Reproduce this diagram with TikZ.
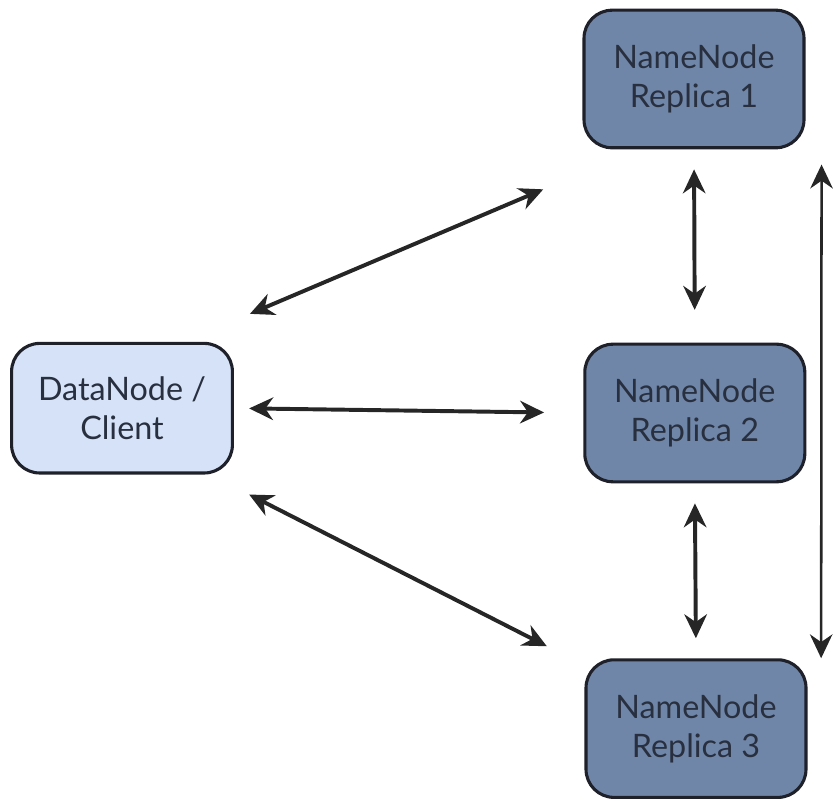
\documentclass[tikz,border=0pt]{standalone}
\usepackage{fontspec}
\setmainfont{Lato}
\usepackage{xcolor}
\definecolor{nnslate}{RGB}{112,134,168}
\definecolor{dnpale}{RGB}{214,226,247}
\definecolor{nnedge}{RGB}{30,32,42}
\definecolor{nntext}{RGB}{40,48,64}
\usetikzlibrary{arrows.meta,positioning,calc}
\tikzset{
  nnode/.style={draw=nnedge, line width=1.1pt, rounded corners=10pt, fill=#1,
                font=\fontsize{11.5}{14}\selectfont, text=nntext, align=center,
                minimum width=2.75cm, minimum height=1.72cm},
  link/.style={{Stealth[length=8.5pt,width=8pt]}-{Stealth[length=8.5pt,width=8pt]},
               line width=1.4pt, black!85},
  thinlink/.style={link, line width=0.9pt},
}

\begin{document}
\begin{tikzpicture}

\useasboundingbox (0,0) rectangle (10.45,10.0125);

% NameNode replicas
\node[nnode=nnslate] (r1) at (8.675,9.025) {NameNode\\Replica 1};
\node[nnode=nnslate] (r2) at (8.685,4.85)  {NameNode\\Replica 2};
\node[nnode=nnslate] (r3) at (8.7,0.905)   {NameNode\\Replica 3};

% DataNode / Client
\node[nnode=dnpale, minimum width=2.76cm, minimum height=1.62cm]
      (dn) at (1.525,4.91) {DataNode /\\Client};

% free ends of the slanted links
\coordinate (dnup)  at ($(dn.north east)+(0.2,0.35)$);
\coordinate (r1in)  at ($(r1.south west)+(-0.49,-0.5)$);
\coordinate (dnlow) at ($(dn.south east)+(0.19,-0.25)$);
\coordinate (r3in)  at ($(r3.north west)+(-0.47,0.15)$);
\coordinate (sidetop) at ($(r1.south east)+(0.2,-0.19)$);
\coordinate (sidebot) at ($(r3.north east)+(0.17,0.0)$);

% client <-> replicas
\draw[link] (dnup) -- (r1in);
\draw[link, shorten <=0.19cm, shorten >=0.49cm] (dn.east) -- (r2.west);
\draw[link] (dnlow) -- (r3in);

% replica <-> replica
\draw[link, shorten <=0.25cm, shorten >=0.41cm] (r1.south) -- (r2.north);
\draw[link, shorten <=0.25cm, shorten >=0.25cm] (r2.south) -- (r3.north);
\draw[thinlink] (sidetop) -- (sidebot);

\end{tikzpicture}
\end{document}
